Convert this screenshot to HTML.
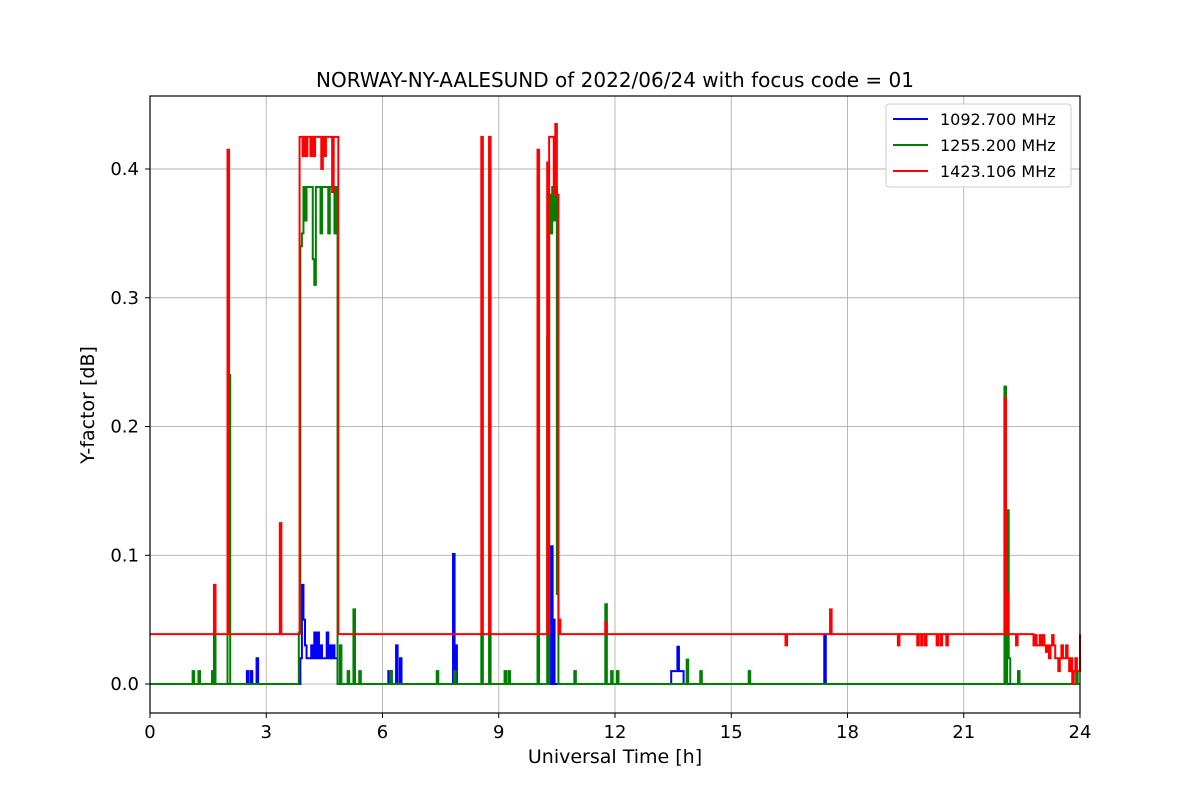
<!DOCTYPE html>
<html><head><meta charset="utf-8"><style>
body{margin:0;background:#fff;}
svg{display:block;font-family:"DejaVu Sans","Liberation Sans",sans-serif;}
</style></head><body>
<svg id="chart" width="1200" height="800">
<text x="615" y="87" font-size="20" text-anchor="middle">NORWAY-NY-AALESUND of 2022/06/24 with focus code = 01</text>
<g id="grid"></g>
<g id="series"></g>
<rect x="150" y="96" width="930" height="617" fill="none" stroke="#000" stroke-width="1.2"/>
<g id="ticks"></g>
<text x="615" y="763" font-size="19" text-anchor="middle">Universal Time [h]</text>
<text transform="translate(94,405) rotate(-90)" font-size="19" text-anchor="middle">Y-factor [dB]</text>
<g>
<rect x="886" y="104" width="185" height="83" fill="#fff" fill-opacity="0.9" stroke="#ccc" rx="3"/>
<line x1="893" y1="119" x2="928" y2="119" stroke="#0000ff" stroke-width="2"/>
<text x="940" y="125" font-size="16">1092.700 MHz</text>
<line x1="893" y1="145" x2="928" y2="145" stroke="#008000" stroke-width="2"/>
<text x="940" y="151" font-size="16">1255.200 MHz</text>
<line x1="893" y1="171" x2="928" y2="171" stroke="#ff0000" stroke-width="2"/>
<text x="940" y="177" font-size="16">1423.106 MHz</text>
</g>
</svg>
<script>
const xTicks=[0,3,6,9,12,15,18,21,24];
const yTicks=[0.0,0.1,0.2,0.3,0.4];
const yTickLabels=["0.0","0.1","0.2","0.3","0.4"];
const blueBase=0;
const blueT=[2.5,2.6,2.75,3.88,3.92,3.96,4.0,4.04,4.08,4.12,4.16,4.2,4.24,4.28,4.32,4.36,4.4,4.44,4.48,4.52,4.56,4.6,4.64,4.68,4.72,4.76,4.8,6.15,6.2,6.35,6.45,7.82,7.88,10.35,10.4,13.45,13.49,13.53,13.57,13.61,13.65,13.69,13.73,17.4];
const blueV=[0.01,0.01,0.02,0.02,0.077,0.05,0.03,0.02,0.02,0.02,0.03,0.02,0.04,0.02,0.04,0.02,0.03,0.02,0.02,0.02,0.04,0.02,0.03,0.02,0.03,0.02,0.02,0.01,0.01,0.03,0.02,0.101,0.03,0.107,0.05,0.01,0.01,0.01,0.01,0.029,0.01,0.01,0.01,0.038];
const greenBase=0;
const greenT=[1.1,1.25,1.6,1.65,2.0,2.03,3.84,3.88,3.92,3.96,4.0,4.04,4.08,4.12,4.16,4.2,4.24,4.28,4.32,4.36,4.4,4.44,4.48,4.52,4.56,4.6,4.64,4.68,4.72,4.76,4.8,4.9,5.1,5.25,5.4,6.2,7.4,7.85,8.55,8.75,9.15,9.25,10.0,10.25,10.3,10.34,10.38,10.42,10.46,10.5,10.95,11.75,11.9,12.05,13.85,14.2,15.45,22.05,22.12,22.16,22.4,23.9];
const greenV=[0.01,0.01,0.01,0.038,0.04,0.24,0.04,0.34,0.35,0.386,0.36,0.386,0.386,0.386,0.386,0.33,0.31,0.386,0.386,0.386,0.35,0.386,0.386,0.386,0.386,0.35,0.386,0.386,0.386,0.35,0.386,0.03,0.01,0.058,0.01,0.01,0.01,0.01,0.038,0.038,0.01,0.01,0.155,0.27,0.38,0.35,0.386,0.36,0.386,0.07,0.01,0.062,0.01,0.01,0.019,0.01,0.01,0.231,0.135,0.02,0.01,0.01];
const redBase=0.0388;
const redT=[1.65,2.0,3.35,3.86,3.9,3.94,3.98,4.02,4.06,4.1,4.14,4.18,4.22,4.26,4.3,4.34,4.38,4.42,4.46,4.5,4.54,4.58,4.62,4.66,4.7,4.74,4.78,4.82,8.55,8.75,10.0,10.25,10.3,10.34,10.38,10.42,10.46,10.5,10.55,11.75,16.4,17.55,19.3,19.8,19.9,20.0,20.3,20.4,20.55,22.05,22.1,22.35,22.8,22.84,22.88,22.92,22.96,23.0,23.04,23.08,23.12,23.16,23.2,23.24,23.28,23.32,23.36,23.4,23.44,23.48,23.52,23.56,23.6,23.64,23.68,23.72,23.76,23.8,23.84,23.88,23.92,23.96];
const redV=[0.077,0.415,0.125,0.425,0.425,0.41,0.425,0.41,0.425,0.425,0.41,0.425,0.41,0.425,0.425,0.425,0.425,0.4,0.425,0.41,0.425,0.425,0.425,0.425,0.382,0.425,0.425,0.425,0.425,0.425,0.415,0.405,0.425,0.425,0.425,0.38,0.435,0.38,0.05,0.048,0.03,0.058,0.03,0.03,0.03,0.03,0.03,0.03,0.03,0.222,0.07,0.03,0.03,0.038,0.03,0.03,0.038,0.03,0.038,0.03,0.025,0.03,0.02,0.03,0.038,0.03,0.02,0.02,0.01,0.02,0.03,0.02,0.02,0.03,0.02,0.01,0.02,0.0,0.01,0.02,0.01,0.01];

const X0=150,X1=1080,Y0=713,Y1=96,VMIN=-0.0225,VMAX=0.4567;
function xs(t){return X0+(t/24)*(X1-X0);}
function ys(v){return Y0-(v-VMIN)/(VMAX-VMIN)*(Y0-Y1);}
const NS="http://www.w3.org/2000/svg";
const grid=document.getElementById('grid'),ticks=document.getElementById('ticks'),ser=document.getElementById('series');
function mk(tag,attrs,parent){const e=document.createElementNS(NS,tag);for(const k in attrs)e.setAttribute(k,attrs[k]);parent.appendChild(e);return e;}
xTicks.forEach(t=>{
  const g=mk('line',{x1:xs(t),x2:xs(t),y1:Y1,y2:Y0,stroke:'#b0b0b0','stroke-width':0.9},grid);
  
  
  mk('line',{x1:xs(t),x2:xs(t),y1:Y0,y2:Y0+5,stroke:'#000'},ticks);
  const tx=mk('text',{x:xs(t),y:738,'font-size':18,'text-anchor':'middle'},ticks);
  tx.textContent=String(t);
  
  
});
yTicks.forEach((v,i)=>{
  const g=mk('line',{x1:X0,x2:X1,y1:ys(v),y2:ys(v),stroke:'#b0b0b0','stroke-width':0.9},grid);
  
  
  mk('line',{x1:X0-5,x2:X0,y1:ys(v),y2:ys(v),stroke:'#000'},ticks);
  const tx=mk('text',{x:139,y:ys(v)+6,'font-size':18,'text-anchor':'end'},ticks);
  tx.textContent=yTickLabels[i];
  
  
});
const W=0.04;
function draw(T,V,base,color,name){
  let d='M'+xs(0)+','+ys(base);
  for(let i=0;i<T.length;i++){
    const prevClose=i>0&&T[i]-T[i-1]<=W*1.05;
    if(!prevClose)d+=' L'+xs(T[i])+','+ys(base);
    d+=' L'+xs(T[i])+','+ys(V[i])+' L'+xs(T[i]+W)+','+ys(V[i]);
    const nextClose=i<T.length-1&&T[i+1]-T[i]<=W*1.05;
    if(!nextClose)d+=' L'+xs(T[i]+W)+','+ys(base);
  }
  const lastV=T.length&&T[T.length-1]+W>=23.99?V[V.length-1]:base;
  d+=' L'+xs(24)+','+ys(lastV);
  const p=mk('path',{d:d,fill:'none',stroke:color,'stroke-width':2,'stroke-linejoin':'miter'},ser);
  
  
}
draw(blueT,blueV,blueBase,'#0000ff','series-1092-mhz');
draw(greenT,greenV,greenBase,'#008000','series-1255-mhz');
draw(redT,redV,redBase,'#ff0000','series-1423-mhz');
</script>
</body></html>
